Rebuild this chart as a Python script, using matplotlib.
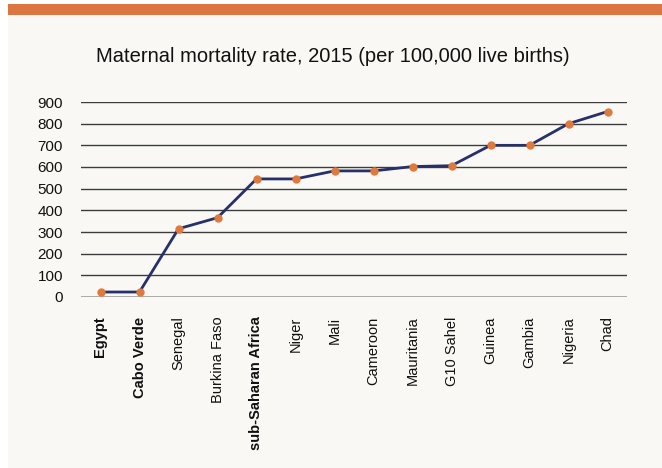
import matplotlib
matplotlib.use('Agg')
import matplotlib.pyplot as plt
from matplotlib.patches import Rectangle

plt.rcParams['font.family'] = ['Liberation Sans', 'DejaVu Sans']

# data
countries = ['Egypt', 'Cabo Verde', 'Senegal', 'Burkina Faso', 'sub-Saharan Africa',
             'Niger', 'Mali', 'Cameroon', 'Mauritania', 'G10 Sahel', 'Guinea',
             'Gambia', 'Nigeria', 'Chad']
mmr = [23, 23, 315, 366, 545, 545, 582, 582, 602, 606, 700, 700, 800, 856]
bold_labels = ['Egypt', 'Cabo Verde', 'sub-Saharan Africa']
yticks = [0, 100, 200, 300, 400, 500, 600, 700, 800, 900]

W, H = 662, 468
fig = plt.figure(figsize=(W / 100, H / 100), dpi=100)
fig.patch.set_facecolor('white')

# background axes: beige panel + orange band on top
bg = fig.add_axes([0, 0, 1, 1], zorder=-1)
bg.set_xlim(0, W)
bg.set_ylim(H, 0)
bg.axis('off')
bg.add_patch(Rectangle((8, 4), W - 8, H - 4, facecolor='#f9f8f4', edgecolor='none'))
bg.add_patch(Rectangle((8, 4), W - 8, 11, facecolor='#db7542', edgecolor='none'))

fig.text(333 / W, 1 - 57 / H, 'Maternal mortality rate, 2015 (per 100,000 live births)',
         ha='center', va='center', fontsize=14.5, color='#111111')

ax = fig.add_axes([81 / W, (H - 297) / H, (627 - 81) / W, (297 - 102) / H])
ax.set_facecolor('none')

x = list(range(len(countries)))
ax.plot(x, mmr, color='#27306a', linewidth=2, zorder=3)
ax.plot(x, mmr, linestyle='none', marker='o', markersize=5,
        markerfacecolor='#e07a3c', markeredgecolor='#e07a3c', zorder=4)

ax.set_xlim(-0.5, len(countries) - 0.5)
ax.set_ylim(0, 900)
ax.set_yticks(yticks)
ax.set_yticklabels([str(v) for v in yticks], fontsize=11, color='#111111')
ax.set_xticks(x)
ax.set_xticklabels(countries, rotation=90, fontsize=10.5, color='#111111', va='top')
for lbl in ax.get_xticklabels():
    if lbl.get_text() in bold_labels:
        lbl.set_fontweight('bold')

ax.tick_params(axis='y', length=0, pad=13)
ax.tick_params(axis='x', length=0, pad=14)
for s in ax.spines.values():
    s.set_visible(False)
ax.yaxis.grid(True, color='#3c3c3c', linewidth=1)
ax.axhline(0, color='#111111', linewidth=1)
ax.set_axisbelow(True)

fig.savefig('out.png', dpi=100, facecolor=fig.get_facecolor())
